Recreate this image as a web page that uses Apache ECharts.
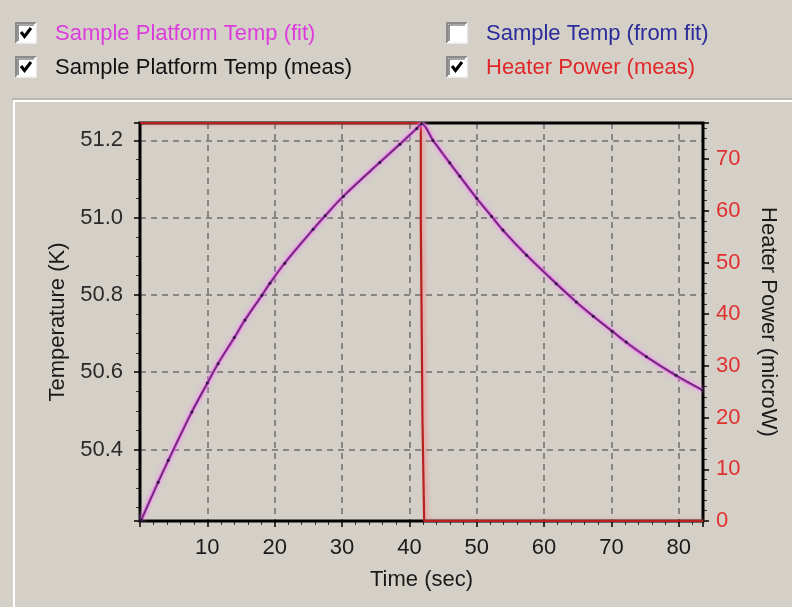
<!DOCTYPE html>
<html><head><meta charset="utf-8">
<script src="https://cdn.jsdelivr.net/npm/echarts@6/dist/echarts.min.js"></script>
<style>html,body{margin:0;padding:0;background:#d4d0c8}#c{width:792px;height:607px}</style>
</head><body><div id="c"></div>
<script>
// ---- data ----
const timeSec = [0.2, 2.7, 4.2, 7.7, 10, 11.6, 14, 15.6, 18.1, 19.3, 21.5, 25.7, 27.5, 30.2, 35.6, 38.6, 41.1, 41.8, 43.5, 46, 47.5, 50, 52.2, 53.9, 57.4, 61.8, 64.8, 67.3, 70.1, 72.2, 75.2, 79.6, 83.5];
const platformTempMeas = [50.218, 50.315, 50.372, 50.497, 50.572, 50.622, 50.690, 50.735, 50.799, 50.830, 50.882, 50.970, 51.005, 51.055, 51.143, 51.190, 51.231, 51.243, 51.200, 51.142, 51.107, 51.050, 51.003, 50.968, 50.903, 50.829, 50.782, 50.745, 50.706, 50.678, 50.640, 50.592, 50.554];
const platformTempFit  = [50.218, 50.316, 50.371, 50.498, 50.571, 50.623, 50.689, 50.736, 50.799, 50.831, 50.883, 50.969, 51.005, 51.056, 51.143, 51.191, 51.231, 51.243, 51.201, 51.141, 51.107, 51.050, 51.004, 50.967, 50.903, 50.830, 50.781, 50.745, 50.707, 50.677, 50.640, 50.591, 50.554];
const heaterTime  = [0, 41.7, 41.7, 41.95, 41.95, 42.2, 42.2, 83.6];
const heaterPower = [77, 77, 57.7, 57.7, 19, 19, 0, 0];
const xTickLabels = ['10','20','30','40','50','60','70','80'];
const tempTickLabels = ['50.4','50.6','50.8','51.0','51.2'];
const powerTickLabels = ['0','10','20','30','40','50','60','70'];
const legendNames = ['Sample Platform Temp (fit)', 'Sample Platform Temp (meas)', 'Sample Temp (from fit)', 'Heater Power (meas)'];
const legendColors = ['#dc3cdc', '#111111', '#2a2a9a', '#e02828'];
const legendChecked = [true, true, false, true];

const zip = (a, b) => a.map((v, i) => [v, b[i]]);
const FONT = '"Liberation Sans", Arial, sans-serif';
const BG = '#d4d0c8';

function fmt(list, digits) {
  return v => {
    const s = v.toFixed(digits);
    return (Math.abs(v - parseFloat(s)) < 1e-6 && list.includes(s)) ? s : '';
  };
}

// plot layout
const G = { left: 140, top: 123, right: 89, bottom: 86 };
const GW = 792 - G.left - G.right, GH = 607 - G.top - G.bottom;

// legend drawn as checkboxes
const legendPos = [[16, 23], [16, 57], [447, 23], [447, 57]];
const graphics = [];
legendNames.forEach((name, i) => {
  const [x, y] = legendPos[i];
  const children = [
    { type: 'rect', shape: { x: 0, y: 0, width: 20, height: 20 }, style: { fill: '#ffffff', stroke: null } },
    { type: 'polyline', shape: { points: [[0, 20], [0, 0], [20, 0]] }, style: { stroke: '#8a8a8a', lineWidth: 2, fill: null } },
    { type: 'polyline', shape: { points: [[2, 18], [2, 2], [18, 2]] }, style: { stroke: '#505050', lineWidth: 1.2, fill: null } },
    { type: 'polyline', shape: { points: [[0, 20], [20, 20], [20, 0]] }, style: { stroke: '#f4f4f4', lineWidth: 1.5, fill: null } },
    { type: 'text', x: 39, y: 11, style: { text: name, fill: legendColors[i], font: '22px ' + FONT, verticalAlign: 'middle', align: 'left' } }
  ];
  if (legendChecked[i]) {
    children.push({ type: 'polyline', shape: { points: [[5, 9], [8.5, 13.5], [15, 5]] }, style: { stroke: '#000', lineWidth: 3, fill: null } });
  }
  graphics.push({ type: 'group', x: x, y: y, children: children });
});
// group box frame
graphics.push({ type: 'line', shape: { x1: 13, y1: 101, x2: 792, y2: 101 }, style: { stroke: '#ffffff', lineWidth: 2 } });
graphics.push({ type: 'line', shape: { x1: 14, y1: 101, x2: 14, y2: 607 }, style: { stroke: '#ffffff', lineWidth: 2 } });
graphics.push({ type: 'line', shape: { x1: 12, y1: 99, x2: 792, y2: 99 }, style: { stroke: '#a8a49c', lineWidth: 1 } });
// plot frame (above grid lines, below series)
graphics.push({ type: 'rect', z: 1, shape: { x: G.left, y: G.top, width: GW, height: GH }, style: { fill: null, stroke: '#000', lineWidth: 3 } });

const chart = echarts.init(document.getElementById('c'), null, { renderer: 'canvas' });
const dashed = { color: '#6e6e6e', width: 1.5, type: [6, 5] };
chart.setOption({
  backgroundColor: BG,
  animation: false,
  textStyle: { fontFamily: FONT },
  graphic: graphics,
  grid: { left: G.left, right: G.right, top: G.top, bottom: G.bottom, show: true, borderWidth: 0, backgroundColor: BG },
  xAxis: {
    type: 'value', min: 0, max: 83.6, interval: 10,
    name: 'Time (sec)', nameLocation: 'middle', nameGap: 48,
    nameTextStyle: { fontSize: 22, color: '#1a1a1a', fontFamily: FONT },
    axisLine: { show: false },
    axisTick: { show: true, length: 6, lineStyle: { color: '#000', width: 1.5 } },
    minorTick: { show: true, splitNumber: 5, length: 4, lineStyle: { color: '#333', width: 1 } },
    axisLabel: { fontSize: 22, color: '#1a1a1a', margin: 16, formatter: fmt(xTickLabels, 0) },
    splitLine: { show: true, lineStyle: dashed }
  },
  yAxis: [{
    type: 'value', min: 50.215, max: 51.245, splitNumber: 5,
    name: 'Temperature (K)', nameLocation: 'middle', nameGap: 68, nameRotate: 90,
    nameTextStyle: { fontSize: 22, color: '#1a1a1a', fontFamily: FONT },
    axisLine: { show: false },
    axisTick: { show: true, length: 6, lineStyle: { color: '#000', width: 1.5 } },
    minorTick: { show: true, splitNumber: 4, length: 4, lineStyle: { color: '#333', width: 1 } },
    axisLabel: { fontSize: 22, color: '#2a2a2a', margin: 17, formatter: fmt(tempTickLabels, 1) },
    splitLine: { show: true, lineStyle: dashed }
  }, {
    type: 'value', min: 0, max: 77, interval: 10, position: 'right',
    name: 'Heater Power (microW)', nameLocation: 'middle', nameGap: 54, nameRotate: -90,
    nameTextStyle: { fontSize: 22, color: '#1a1a1a', fontFamily: FONT },
    axisLine: { show: false },
    axisTick: { show: true, length: 6, lineStyle: { color: '#000', width: 1.5 } },
    minorTick: { show: true, splitNumber: 5, length: 4, lineStyle: { color: '#333', width: 1 } },
    axisLabel: { fontSize: 22, color: '#e03030', margin: 13, formatter: fmt(powerTickLabels, 0) },
    splitLine: { show: false }
  }],
  series: [{
    name: 'Heater Power (meas)', type: 'line', yAxisIndex: 1, data: zip(heaterTime, heaterPower),
    showSymbol: false, z: 3,
    lineStyle: { color: '#b82020', width: 2.2, shadowColor: 'rgba(255,110,110,0.8)', shadowBlur: 4, shadowOffsetX: 2 }
  }, {
    name: 'Sample Platform Temp (fit)', type: 'line', data: zip(timeSec, platformTempFit),
    showSymbol: false, smooth: 0.35, z: 4,
    lineStyle: { color: '#d050d0', width: 3, shadowColor: 'rgba(245,140,245,1)', shadowBlur: 5 }
  }, {
    name: 'Sample Platform Temp (meas)', type: 'line', data: zip(timeSec, platformTempMeas),
    smooth: 0.35, z: 5, symbol: 'circle', symbolSize: 3,
    itemStyle: { color: '#2a1a40' },
    lineStyle: { color: '#4a2258', width: 1.1 }
  }]
});
</script></body></html>
